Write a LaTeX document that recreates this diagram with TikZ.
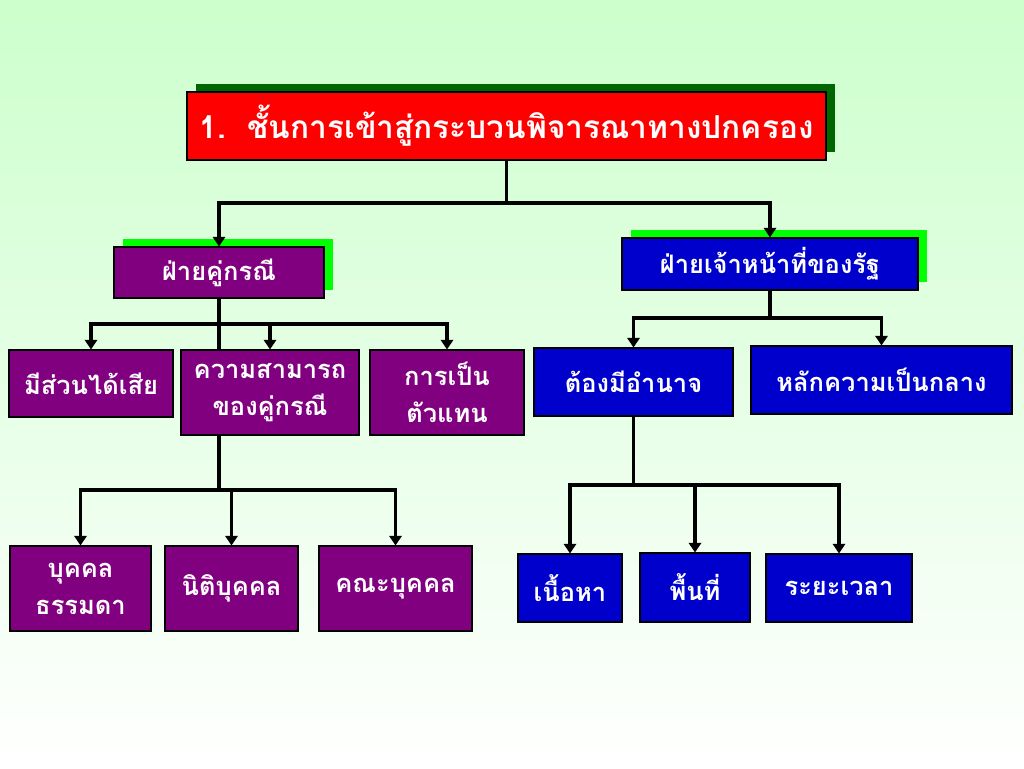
\documentclass[tikz,border=0pt]{standalone}
\usepackage{fontspec}
\newfontfamily\thaifont[Script=Thai]{Loma}
\usepackage{tikz}
\usetikzlibrary{positioning,
				arrows.meta,
				shadows}

\definecolor{bgtop}{RGB}{204,255,204}
\definecolor{titlered}{RGB}{255,0,0}
\definecolor{titleshade}{RGB}{0,102,0}
\definecolor{midshade}{RGB}{0,255,0}
\definecolor{boxpurple}{RGB}{128,0,128}
\definecolor{boxblue}{RGB}{0,0,204}

\tikzset{
	box/.style={draw=black, line width=0.6pt, text=white, align=center, inner sep=0pt,
		font=\thaifont\bfseries\fontsize{14.5}{21}\selectfont},
	pbox/.style={box, fill=boxpurple},
	bbox/.style={box, fill=boxblue},
	sz/.style 2 args={minimum width=#1*0.02cm, minimum height=#2*0.02cm},
	backshade/.style={general shadow={fill=#1, shadow xshift=5pt, shadow yshift=4.5pt}},
	link/.style={line width=2pt},
	arr/.style={link, -{Triangle[width=7pt,length=5.5pt]}}
}

\begin{document}
\begin{tikzpicture}[x=0.02cm,y=-0.02cm]
	\useasboundingbox (0,0) rectangle (1024,768);
	\shade[top color=bgtop, bottom color=white] (0,0) rectangle (1024,768);

	% top
	\node[box, fill=titlered, backshade=titleshade, sz={639}{68},
		font=\thaifont\bfseries\fontsize{18}{22}\selectfont] (title) at (506.5,126)
		{1.~~ชั้นการเข้าสู่กระบวนพิจารณาทางปกครอง};

	% second row
	\node[pbox, backshade=midshade, sz={210}{51}] (party) at (219,272.5) {ฝ่ายคู่กรณี};
	\node[bbox, backshade=midshade, sz={296}{52}] (officer) at (770,264) {ฝ่ายเจ้าหน้าที่ของรัฐ};

	% party side
	\node[pbox, sz={164}{67}] (stake) at (91,383.5) {มีส่วนได้เสีย};
	\node[pbox, sz={178}{85}] (capa) at (270,392.5) {ความสามารถ\\ของคู่กรณี};
	\node[pbox, sz={154}{85}] (agent) at (447,392.5) {การเป็น\\ตัวแทน};

	\node[pbox, sz={141}{85}] (natural) at (80.5,588.5) {บุคคล\\ธรรมดา};
	\node[pbox, sz={133}{85}] (juristic) at (231.5,588.5) {นิติบุคคล};
	\node[pbox, sz={153}{85}] (group) at (395.5,588.5) {คณะบุคคล};

	% officer side
	\node[bbox, sz={199}{68}] (power) at (633.5,382) {ต้องมีอำนาจ};
	\node[bbox, sz={261}{68}] (neutral) at (881.5,380) {หลักความเป็นกลาง};

	\node[bbox, sz={104}{68}] (content) at (570,588) {เนื้อหา};
	\node[bbox, sz={110}{69}] (area) at (695,587.5) {พื้นที่};
	\node[bbox, sz={146}{68}] (period) at (839,588) {ระยะเวลา};

	% connectors
	\coordinate (jtop) at (title.south |- 0,203);
	\draw[link] (title.south) -- (jtop);
	\draw[arr] (jtop) -| (party.north);
	\draw[arr] (jtop) -| (officer.north);

	\coordinate (jparty) at (party.south |- 0,324);
	\draw[link] (party.south) -- (party.south |- capa.north);
	\draw[arr] (jparty) -| (stake.north);
	\draw[arr] (jparty) -| (capa.north);
	\draw[arr] (jparty) -| (agent.north);

	\coordinate (jcapa) at (party.south |- 0,490);
	\draw[link] (party.south |- capa.south) -- (jcapa);
	\draw[arr] (jcapa) -| (natural.north);
	\draw[arr] (jcapa) -| (juristic.north);
	\draw[arr] (jcapa) -| (group.north);

	\coordinate (joff) at (officer.south |- 0,318);
	\draw[link] (officer.south) -- (joff);
	\draw[arr] (joff) -| (power.north);
	\draw[arr] (joff) -| (neutral.north);

	\coordinate (jpower) at (power.south |- 0,485);
	\draw[link] (power.south) -- (jpower);
	\draw[arr] (jpower) -| (content.north);
	\draw[arr] (jpower) -| (area.north);
	\draw[arr] (jpower) -| (period.north);
\end{tikzpicture}
\end{document}
